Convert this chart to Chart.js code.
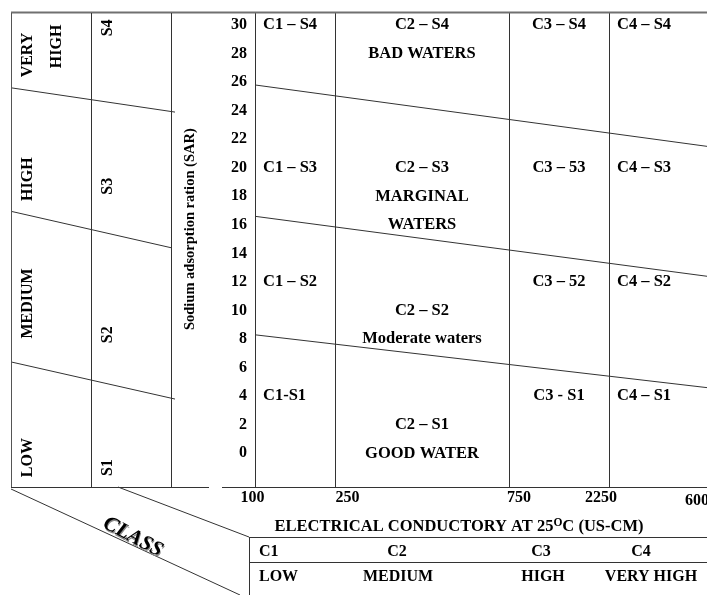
<!DOCTYPE html>
<html>
<head>
<meta charset="utf-8">
<script src="https://cdn.jsdelivr.net/npm/chart.js@4.4.1/dist/chart.umd.min.js"></script>
<style>
html,body{margin:0;padding:0;background:#fff;}
canvas{display:block;}
</style>
</head>
<body>
<canvas id="c" width="707" height="595"></canvas>
<script>
// ---------------- data ----------------
// SAR axis ticks
const sarTicks = [0, 2, 4, 6, 8, 10, 12, 14, 16, 18, 20, 22, 24, 26, 28, 30];
const sarMin = -2.36;
const sarMax = 30.84;

// EC axis: class limits (diagram units, as drawn) and their tick labels
const ecBoundaries = [0, 80, 254, 354];
const ecAxisEnd = 452;
const ecTickLabels = ['100', '250', '750', '2250', '6000'];
const ecTickLabelPos = [-2.5, 92.5, 264, 346, 446];

// Salinity-hazard boundary lines in the main diagram (SAR at left / right edge)
const sarLineStart = [25.8, 16.6, 8.3];
const sarLineEnd = [21.5, 12.4, 4.6];

// Boundary lines in the left "class" panel (SAR at left / right end)
const classLineLeft = [25.6, 16.95, 6.4];
const classLineRight = [23.9, 14.4, 3.8];
const classLineEndX = [-80, -84, -80];

// EC classes (bottom table)
const ecClasses = ['C1', 'C2', 'C3', 'C4'];
const ecClassNames = ['LOW', 'MEDIUM', 'HIGH', 'VERY HIGH'];

// S classes (left panel)
const sClasses = ['S4', 'S3', 'S2', 'S1'];
const sClassSar = [29.8, 18.7, 8.3, -1.0];
const sClassNames = [['VERY', 'HIGH'], ['HIGH'], ['MEDIUM'], ['LOW']];
const sClassNameSar = [[27.9, 28.5], [19.2], [10.5], [-0.3]];

// Zone labels: [text, EC column, SAR]
const zoneLabels = [
  ['C1 – S4', 0, 30], ['C2 – S4', 1, 30], ['C3 – S4', 2, 30], ['C4 – S4', 3, 30],
  ['BAD WATERS', 1, 28],
  ['C1 – S3', 0, 20], ['C2 – S3', 1, 20], ['C3 – 53', 2, 20], ['C4 – S3', 3, 20],
  ['MARGINAL', 1, 18], ['WATERS', 1, 16],
  ['C1 – S2', 0, 12], ['C3 – 52', 2, 12], ['C4 – S2', 3, 12],
  ['C2 – S2', 1, 10], ['Moderate waters', 1, 8],
  ['C1-S1', 0, 4], ['C3 - S1', 2, 4], ['C4 – S1', 3, 4],
  ['C2 – S1', 1, 2], ['GOOD WATER', 1, 0]
];
const yTitle = 'Sodium adsorption ration (SAR)';
const xTitle = ['ELECTRICAL CONDUCTORY AT 25', 'O', 'C (US-CM)'];
const classTitle = 'CLASS';

// ---------------- drawing ----------------
const FAM = '"Liberation Serif", "Times New Roman", serif';
const F = (size, style) => `${style || 'bold'} ${size}px ${FAM}`;
const LINE = '#333';

const datasets = [];
sarLineStart.forEach((s, i) => {
  datasets.push({
    data: [{x: 0, y: s}, {x: ecAxisEnd, y: sarLineEnd[i]}],
    borderColor: LINE, borderWidth: 1, pointRadius: 0, fill: false, tension: 0, clip: false
  });
});
classLineLeft.forEach((s, i) => {
  datasets.push({
    data: [{x: -244, y: s}, {x: classLineEndX[i], y: classLineRight[i]}],
    borderColor: LINE, borderWidth: 1, pointRadius: 0, fill: false, tension: 0, clip: false
  });
});

const diagramPlugin = {
  id: 'diagram',
  afterDraw(chart) {
    const ctx = chart.ctx;
    const ca = chart.chartArea;
    const xs = chart.scales.x, ys = chart.scales.y;
    const X = v => xs.getPixelForValue(v);
    const Y = v => ys.getPixelForValue(v);
    const top = ca.top, bot = ca.bottom;

    const seg = (x1, y1, x2, y2, color, w) => {
      ctx.save();
      ctx.strokeStyle = color || LINE;
      ctx.lineWidth = w || 1;
      ctx.beginPath(); ctx.moveTo(x1, y1); ctx.lineTo(x2, y2); ctx.stroke();
      ctx.restore();
    };
    const hline = (x1, x2, y, c, w) => seg(x1, Math.round(y) + 0.5, x2, Math.round(y) + 0.5, c, w);
    const vline = (x, y1, y2, c, w) => seg(Math.round(x) + 0.5, y1, Math.round(x) + 0.5, y2, c, w);
    const text = (s, x, y, align, size, style) => {
      ctx.save();
      ctx.fillStyle = '#000';
      ctx.font = F(size || 16, style);
      ctx.textAlign = align || 'center';
      ctx.textBaseline = 'middle';
      ctx.fillText(s, x, y);
      ctx.restore();
    };
    const vtext = (s, x, y, size) => {
      ctx.save();
      ctx.translate(x, y);
      ctx.rotate(-Math.PI / 2);
      text(s, 0, 0, 'center', size);
      ctx.restore();
    };

    const leftEdge = X(-244);
    // frame
    hline(leftEdge, chart.width, top - 1, '#707070', 2);
    [-244, -164, -84].forEach(v => vline(X(v), top, bot, v === -244 ? '#555' : LINE, 1));
    hline(leftEdge, X(-46), bot, LINE, 1);
    hline(X(-33), chart.width, bot, LINE, 1);

    // diagonals toward the class table
    const tblX = X(-6), tblTop = bot + 50, tblMid = bot + 75;
    seg(leftEdge, bot + 2, X(-15), chart.height, LINE, 1);
    seg(X(-137), bot, tblX, tblTop, LINE, 1);

    // class table
    hline(tblX, chart.width, tblTop, LINE, 1);
    hline(tblX, chart.width, tblMid, LINE, 1);
    vline(tblX, tblTop, chart.height, LINE, 1);

    // zone labels
    const colAnchor = [
      ['left', X(ecBoundaries[0]) + 8],
      ['center', X((ecBoundaries[1] + ecBoundaries[2]) / 2)],
      ['center', X((ecBoundaries[2] + ecBoundaries[3]) / 2)],
      ['left', X(ecBoundaries[3]) + 8]
    ];
    zoneLabels.forEach(([s, c, sar]) => {
      const [al, px] = colAnchor[c];
      text(s, px, Y(sar), al, 16.5);
    });

    // left panel
    sClasses.forEach((s, i) => vtext(s, X(-164) + 17, Y(sClassSar[i]), 16));
    sClassNames.forEach((lines, i) => {
      lines.forEach((s, j) => vtext(s, leftEdge + 17 + j * 29, Y(sClassNameSar[i][j]), 16));
    });
    vtext(yTitle, X(-65), Y(15.7), 14.5);

    // EC tick labels
    ecTickLabels.forEach((s, i) => {
      text(s, X(ecTickLabelPos[i]), bot + 11 + (i === ecTickLabels.length - 1 ? 2.5 : 0), 'center', 16);
    });

    // EC title with superscript
    ctx.save();
    ctx.font = F(16.5);
    const w1 = ctx.measureText(xTitle[0]).width;
    const w3 = ctx.measureText(xTitle[2]).width;
    ctx.font = F(11.5);
    const w2 = ctx.measureText(xTitle[1]).width;
    ctx.restore();
    const tcx = X(204), tcy = bot + 40;
    let sx = tcx - (w1 + w2 + w3) / 2;
    text(xTitle[0], sx, tcy, 'left', 16.5);
    text(xTitle[1], sx + w1, tcy - 4, 'left', 11.5);
    text(xTitle[2], sx + w1 + w2, tcy, 'left', 16.5);

    // table text
    const r1 = bot + 64.5, r2 = bot + 89.5;
    const tblCols = [['left', X(4)], ['center', X(142)], ['center', X(286)], ['center', X(386)]];
    const tblCols2 = [['left', X(4)], ['center', X(143)], ['center', X(288)], ['center', X(396)]];
    ecClasses.forEach((s, i) => text(s, tblCols[i][1], r1, tblCols[i][0], 16));
    ecClassNames.forEach((s, i) => text(s, tblCols2[i][1], r2, tblCols2[i][0], 16));

    // CLASS (rotated, italic with shadow)
    ctx.save();
    ctx.translate(X(-122), bot + 50);
    ctx.rotate(28 * Math.PI / 180);
    ctx.font = F(21, 'italic bold');
    ctx.textAlign = 'center';
    ctx.textBaseline = 'middle';
    ctx.fillStyle = '#888';
    ctx.fillText(classTitle, 1.2, 1.2);
    ctx.fillStyle = '#000';
    ctx.fillText(classTitle, 0, 0);
    ctx.restore();
  }
};

new Chart(document.getElementById('c'), {
  type: 'line',
  data: { datasets },
  options: {
    responsive: false,
    animation: false,
    devicePixelRatio: 1,
    layout: { padding: { top: 13, left: 0, right: 0, bottom: 0 } },
    plugins: { legend: { display: false }, tooltip: { enabled: false } },
    scales: {
      x: {
        type: 'linear', min: 0, max: ecAxisEnd,
        grid: { color: LINE, lineWidth: 1, drawTicks: false },
        border: { display: false },
        ticks: { display: false },
        afterBuildTicks: s => { s.ticks = ecBoundaries.map(v => ({ value: v })); },
        afterFit: s => { s.height = 108; }
      },
      y: {
        type: 'linear', min: sarMin, max: sarMax,
        grid: { display: false, drawTicks: false },
        border: { display: false },
        ticks: { color: '#000', padding: 8, font: { family: FAM, size: 16, weight: 'bold' } },
        afterBuildTicks: s => { s.ticks = sarTicks.map(v => ({ value: v })); },
        afterFit: s => { s.width = 255; s.paddingTop = 0; s.paddingBottom = 0; }
      }
    }
  },
  plugins: [diagramPlugin]
});
</script>
</body>
</html>
